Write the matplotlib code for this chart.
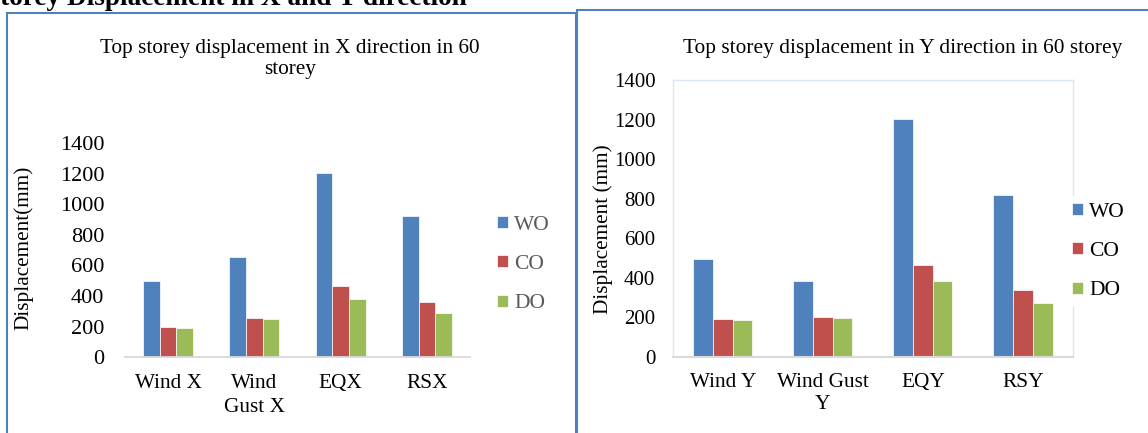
import matplotlib.pyplot as plt
import numpy as np
from matplotlib.patches import Rectangle

W, H = 1148, 433

series = ["WO", "CO", "DO"]
colors = ["#4f81bd", "#c0504d", "#9bbb59"]

# X direction (left chart)
x_cats = ["Wind X", "Wind\nGust X", "EQX", "RSX"]
x_wo = [500, 655, 1205, 925]
x_co = [195, 255, 468, 362]
x_do = [190, 250, 383, 290]

# Y direction (right chart)
y_cats = ["Wind Y", "Wind Gust\nY", "EQY", "RSY"]
y_wo = [495, 385, 1203, 820]
y_co = [191, 203, 466, 336]
y_do = [185, 195, 384, 272]

plt.rcParams["font.family"] = "Liberation Serif"


def fx(px):
    return px / W


def fy(py):
    return 1 - py / H


def draw_bars(ax, cats, values, width, spacing):
    pos = np.arange(len(cats))
    for i, (vals, name, c) in enumerate(zip(values, series, colors)):
        ax.bar(pos + (i - 1) * width, vals, width, color=c,
               edgecolor="white", linewidth=0.5, label=name)
    ax.set_xticks(pos)
    ax.set_xticklabels(cats, fontsize=15.3, linespacing=spacing)
    ax.set_xlim(-0.5, len(cats) - 0.5)
    ax.set_ylim(0, 1400)
    ax.set_yticks(range(0, 1401, 200))
    ax.tick_params(length=0)


fig = plt.figure(figsize=(W / 100, H / 100), dpi=100)

# panel frames
fig.add_artist(Rectangle((fx(7), fy(460)), fx(576) - fx(7), (460 - 12.5) / H,
                         transform=fig.transFigure, fill=False,
                         edgecolor="#4f81bd", linewidth=1.5, clip_on=False))
fig.add_artist(Rectangle((fx(577), fy(460)), fx(1170) - fx(577), (460 - 10) / H,
                         transform=fig.transFigure, fill=False,
                         edgecolor="#4f81bd", linewidth=1.5, clip_on=False))

# cut-off section heading
fig.text(fx(467), fy(5), "Storey Displacement in X and Y direction",
         ha="right", va="baseline", fontsize=19.6, fontweight="bold")

# left chart
ax1 = fig.add_axes([fx(125), fy(357.3), fx(470) - fx(125), (357.3 - 143) / H])
draw_bars(ax1, x_cats, [x_wo, x_co, x_do], 0.193, 1.35)
for s in ["top", "right", "left"]:
    ax1.spines[s].set_visible(False)
ax1.spines["bottom"].set_color("#d9d9d9")
ax1.spines["bottom"].set_linewidth(1.3)
ax1.tick_params(axis="y", labelsize=16, pad=15)
ax1.tick_params(axis="x", pad=12)
ax1.set_ylabel("Displacement(mm)", fontsize=15.3)
ax1.yaxis.set_label_coords(fx(33), fy(248), transform=fig.transFigure)
fig.text(fx(290), fy(74), "Top storey displacement in X direction in 60\nstorey",
         ha="center", va="baseline", fontsize=15.3, linespacing=1.15)
ax1.legend(loc="center left", bbox_to_anchor=(fx(480), fy(264.5)),
           bbox_transform=fig.transFigure, frameon=False, fontsize=15.5,
           labelcolor="#595959", handlelength=0.5, handleheight=0.5,
           handletextpad=0.3, labelspacing=0.95, borderpad=0.3)

# right chart
ax2 = fig.add_axes([fx(672.7), fy(356.7), fx(1073) - fx(672.7), (356.7 - 80) / H])
draw_bars(ax2, y_cats, [y_wo, y_co, y_do], 0.197, 1.2)
for s in ["top", "right", "left"]:
    ax2.spines[s].set_color("#dce6f2")
    ax2.spines[s].set_linewidth(1.0)
ax2.spines["bottom"].set_color("#d9d9d9")
ax2.spines["bottom"].set_linewidth(1.5)
ax2.tick_params(axis="y", labelsize=15, pad=12.5)
ax2.tick_params(axis="x", pad=12)
ax2.set_ylabel("Displacement (mm)", fontsize=15.3)
ax2.yaxis.set_label_coords(fx(613), fy(229), transform=fig.transFigure)
fig.text(fx(903), fy(53.3), "Top storey displacement in Y direction in 60 storey",
         ha="center", va="baseline", fontsize=15.4)
leg = ax2.legend(loc="center left", bbox_to_anchor=(fx(1055), fy(251.5)),
                 bbox_transform=fig.transFigure, frameon=True, fontsize=15.5,
                 handlelength=0.5, handleheight=0.5, handletextpad=0.3,
                 labelspacing=0.95, borderpad=0.3, fancybox=False)
leg.get_frame().set_facecolor("white")
leg.get_frame().set_edgecolor("none")
leg.get_frame().set_alpha(1)

fig.savefig("out.png", dpi=100)
